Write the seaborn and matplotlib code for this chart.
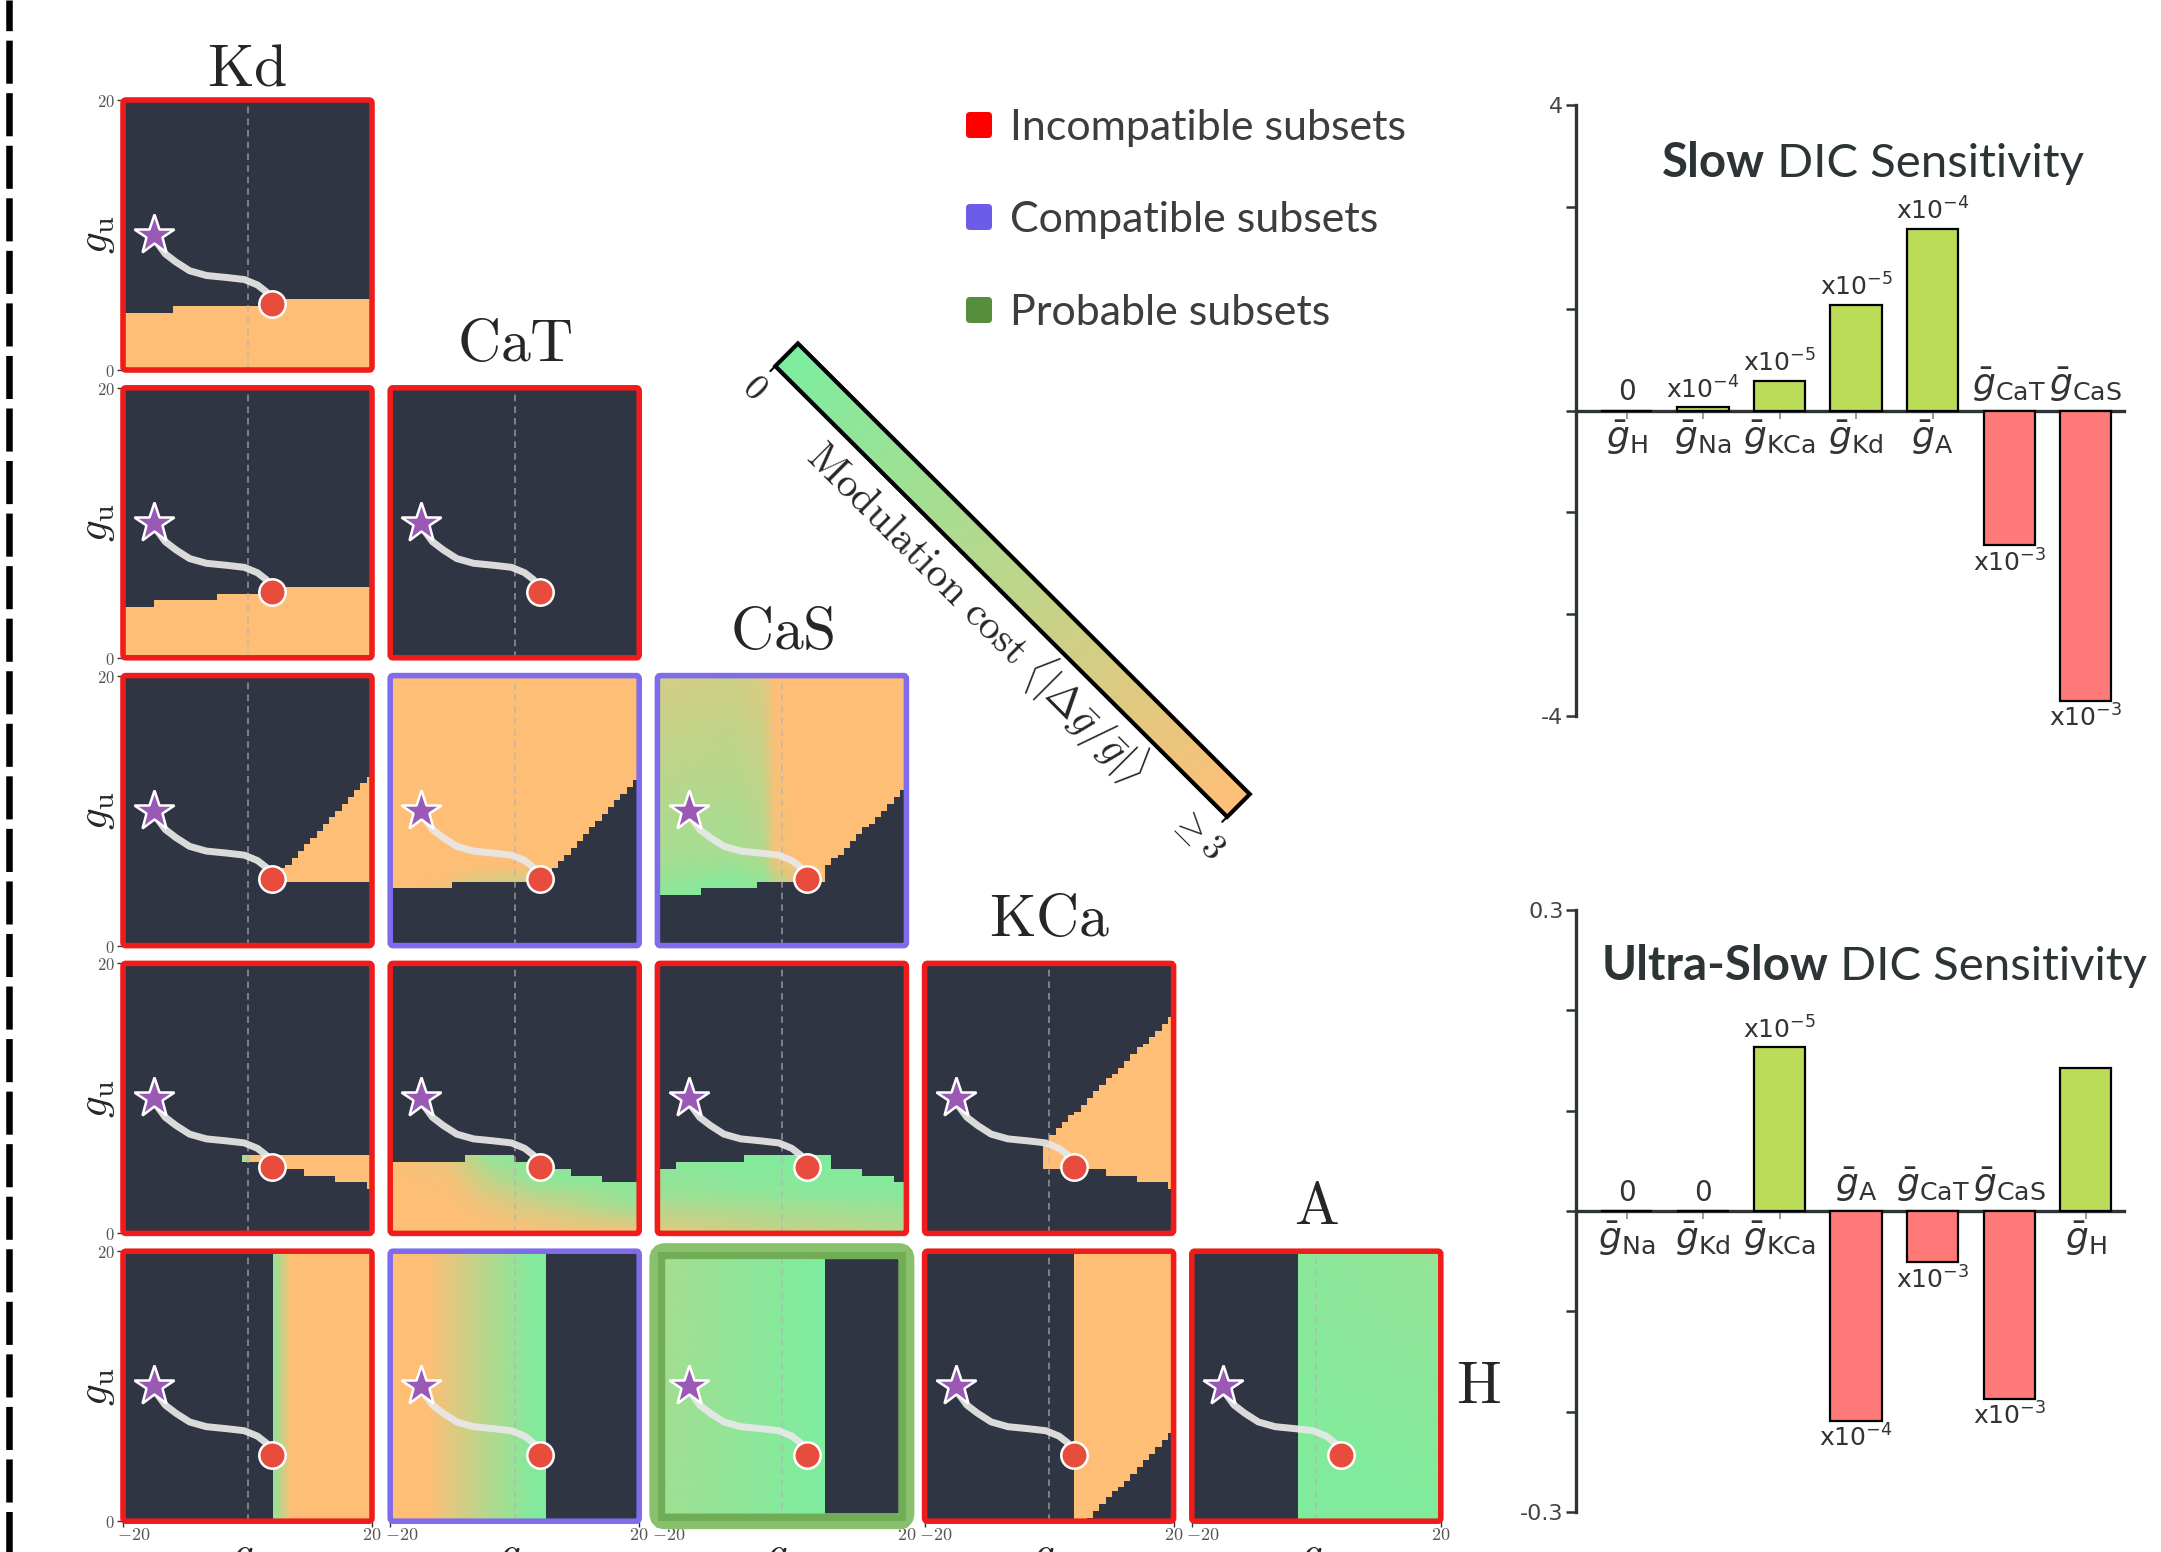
import numpy as np
import matplotlib
matplotlib.use("Agg")
import matplotlib.pyplot as plt
import seaborn as sns
from matplotlib.colors import LinearSegmentedColormap, Normalize, to_rgba
from matplotlib.patches import FancyBboxPatch, Polygon
from matplotlib.collections import PolyCollection

# ---------------- data ----------------
# conductance names of the 5x5 lower-triangular grid
grid_names = ["Kd", "CaT", "CaS", "KCa", "A"]
row_last_name = "H"

# start (star) / end (circle) point and the trajectory between them, in (g_s, g_u)
star_xy = (-15.0, 10.0)
end_xy = (4.0, 4.9)
path_x = [-15.0, -14.8, -13.2, -11.5, -9.3, -6.6, -3.3, -0.5, 1.6, 3.0, 3.7, 4.0]
path_y = [10.0, 9.6, 8.6, 8.0, 7.35, 7.0, 6.85, 6.7, 6.3, 5.8, 5.3, 4.9]

# compatible region of each panel: per column (40 columns of width 1 in g_s)
# lower / upper bound in g_u of the coloured (feasible) cells
lo_11 = [0] * 40
hi_11 = [4.25] * 8 + [4.75] * 17 + [5.25] * 15
lo_21 = [0] * 40
hi_21 = [3.75] * 5 + [4.25] * 10 + [4.75] * 11 + [5.25] * 14
lo_22 = [0] * 40
hi_22 = [0] * 40
lo_31 = [0] * 25 + [4.75] * 15
hi_31 = [0] * 25 + [5.75, 6.0, 6.5, 7.0, 7.5, 8.0, 8.5, 9.0, 9.5, 10.0, 10.5, 11.0, 11.5, 12.0, 12.5]
lo_32 = [4.25] * 10 + [4.75] * 16 + [5.75, 6.25, 6.75, 7.25, 7.75, 8.25, 8.75, 9.25, 9.75, 10.25, 10.75, 11.25, 11.75, 12.25]
hi_32 = [20] * 40
lo_33 = [3.75] * 7 + [4.25] * 9 + [4.75] * 11 + [6.0, 6.5, 6.75, 7.25, 7.75, 8.25, 8.75, 9.0, 9.5, 10.0, 10.5, 11.0, 11.5]
hi_33 = [20] * 40
lo_41 = [0] * 19 + [5.25] * 7 + [4.75] * 3 + [4.25] * 5 + [3.75] * 5 + [3.25]
hi_41 = [0] * 19 + [5.75] * 21
lo_42 = [0] * 40
hi_42 = [5.25] * 12 + [5.75] * 8 + [5.25] * 6 + [4.75] * 3 + [4.25] * 5 + [3.75] * 6
lo_43 = [0] * 40
hi_43 = [4.75] * 3 + [5.25] * 11 + [5.75] * 14 + [4.75] * 5 + [4.25] * 5 + [3.75] * 2
lo_44 = [0] * 19 + [4.75] * 10 + [4.25] * 5 + [3.75] * 5 + [3.25]
hi_44 = [0] * 19 + [6.5] + [7.25, 7.75, 8.25, 8.75, 9.0, 9.5, 10.0, 10.5, 11.0, 11.5, 11.75,
                            12.25, 12.75, 13.25, 13.75, 14.0, 14.5, 15.0, 15.5, 16.0]
lo_51 = [0] * 40
hi_51 = [0] * 24 + [20] * 16
lo_52 = [0] * 40
hi_52 = [20] * 25 + [0] * 15
lo_53 = [0] * 40
hi_53 = [20] * 27 + [0] * 13
lo_54 = [0] * 26 + [0.25, 0.75, 1.25, 1.75, 2.25, 2.5, 3.0, 3.5, 4.0, 4.5, 5.0, 5.5, 6.0, 6.5]
hi_54 = [0] * 24 + [20] * 16
lo_55 = [0] * 40
hi_55 = [0] * 17 + [20] * 23

# modulation cost read at a few nodes (g_s nodes, g_u nodes, values 0..3)
flat_x, flat_y = [-20, 20], [0, 20]
cost_flat = [[3, 3], [3, 3]]
cost_32_x = [-20, -12, -6, 3, 7, 20]
cost_32_y = [0, 4.75, 6.0, 20]
cost_32 = [[3, 3, 3, 3, 3, 3],
           [3, 2.9, 2.2, 1.9, 3, 3],
           [3, 3, 3, 3, 3, 3],
           [3, 3, 3, 3, 3, 3]]
cost_33_x = [-20, -8, -3, -1, 3, 20]
cost_33_y = [0, 4, 6.5, 20]
cost_33 = [[0.5, 0.1, 0.3, 1.0, 3, 3],
           [0.5, 0.1, 0.3, 0.8, 2.8, 3],
           [1.0, 0.9, 1.2, 2.8, 3, 3],
           [2.0, 1.9, 2.2, 3, 3, 3]]
cost_41_x = [-20, -1, 1.0, 20]
cost_41 = [[0.6, 0.6, 3, 3], [0.6, 0.6, 3, 3]]
cost_42_x = [-20, -10, -4, 3, 20]
cost_42_y = [0, 2, 4, 6, 20]
cost_42 = [[3, 3, 3, 3, 2.8],
           [3, 3, 2.6, 2.0, 0.8],
           [3, 2.8, 1.6, 0.6, 0.2],
           [3, 2.2, 0.4, 0.2, 0.2],
           [3, 2.2, 0.4, 0.2, 0.2]]
cost_43_x = [-20, 0, 20]
cost_43_y = [0, 3, 6, 20]
cost_43 = [[2.4, 1.8, 1.4],
           [0.7, 0.4, 0.3],
           [0.3, 0.1, 0.1],
           [0.3, 0.1, 0.1]]
cost_51_x = [-20, 4, 7, 20]
cost_51 = [[0.3, 0.3, 3, 3], [0.3, 0.3, 3, 3]]
cost_52_x = [-20, -14, -6, 2, 5, 20]
cost_52 = [[3, 3, 1.6, 0.3, 0.1, 0.1], [3, 3, 1.6, 0.3, 0.1, 0.1]]
cost_53_x = [-20, 5, 20]
cost_53 = [[0.9, 0.1, 0.1], [1.0, 0.1, 0.1]]
cost_55 = [[0.1, 0.15], [0.2, 0.6]]

# (row, col): (lo, hi, cost x nodes, cost y nodes, cost values, frame kind)
panels = {
    (0, 0): (lo_11, hi_11, flat_x, flat_y, cost_flat, "red"),
    (1, 0): (lo_21, hi_21, flat_x, flat_y, cost_flat, "red"),
    (1, 1): (lo_22, hi_22, flat_x, flat_y, cost_flat, "red"),
    (2, 0): (lo_31, hi_31, flat_x, flat_y, cost_flat, "red"),
    (2, 1): (lo_32, hi_32, cost_32_x, cost_32_y, cost_32, "purple"),
    (2, 2): (lo_33, hi_33, cost_33_x, cost_33_y, cost_33, "purple"),
    (3, 0): (lo_41, hi_41, cost_41_x, flat_y, cost_41, "red"),
    (3, 1): (lo_42, hi_42, cost_42_x, cost_42_y, cost_42, "red"),
    (3, 2): (lo_43, hi_43, cost_43_x, cost_43_y, cost_43, "red"),
    (3, 3): (lo_44, hi_44, flat_x, flat_y, cost_flat, "red"),
    (4, 0): (lo_51, hi_51, cost_51_x, flat_y, cost_51, "red"),
    (4, 1): (lo_52, hi_52, cost_52_x, flat_y, cost_52, "purple"),
    (4, 2): (lo_53, hi_53, cost_53_x, flat_y, cost_53, "green"),
    (4, 3): (lo_54, hi_54, flat_x, flat_y, cost_flat, "red"),
    (4, 4): (lo_55, hi_55, flat_x, flat_y, cost_55, "red"),
}

# DIC sensitivity bars
slow_names = ["H", "Na", "KCa", "Kd", "A", "CaT", "CaS"]
slow_vals = [0.0, 0.04, 0.385, 1.38, 2.38, -1.76, -3.80]
slow_notes = ["0", "x10$^{-4}$", "x10$^{-5}$", "x10$^{-5}$", "x10$^{-4}$", "x10$^{-3}$", "x10$^{-3}$"]
ultra_names = ["Na", "Kd", "KCa", "A", "CaT", "CaS", "H"]
ultra_vals = [0.0, 0.0, 0.163, -0.209, -0.051, -0.187, 0.143]
ultra_notes = ["0", "0", "x10$^{-5}$", "x10$^{-4}$", "x10$^{-3}$", "x10$^{-3}$", ""]

legend_labels = ["Incompatible subsets", "Compatible subsets", "Probable subsets"]
legend_colors = ["#ff0000", "#6c5ce7", "#568e3e"]

# ---------------- style ----------------
DARK = "#2f3542"
GREEN, ORANGE = "#7bed9f", "#ffbe76"
BAR_POS, BAR_NEG = "#badc58", "#ff7979"
INK = "#2d3436"
frame_colors = {"red": "#f01c1c", "purple": "#7f6cec"}
cost_cmap = LinearSegmentedColormap.from_list("cost", [GREEN, ORANGE])

sns.set_style("white")
plt.rcParams["font.family"] = ["DejaVu Sans"]
plt.rcParams["mathtext.fontset"] = "cm"

W, H = 2161, 1552
fig = plt.figure(figsize=(W / 100, H / 100), dpi=100)


def px_axes(x0, y0, w, h, **kw):
    return fig.add_axes([x0 / W, 1 - (y0 + h) / H, w / W, h / H], **kw)


y_cells = np.arange(0.125, 20, 0.25)

for (r, c), (lo, hi, cx, cy, cv, kind) in panels.items():
    ax = px_axes(123 + c * 267.2, 100 + r * 287.8, 249, 270)
    X, Y = np.meshgrid(cx, cy)
    ax.pcolormesh(X, Y, np.array(cv, float), shading="gouraud", cmap=cost_cmap,
                  vmin=0, vmax=3, zorder=1)
    lo_a, hi_a = np.array(lo, float), np.array(hi, float)
    feasible = (y_cells[:, None] >= lo_a[None, :]) & (y_cells[:, None] < hi_a[None, :])
    shade = np.zeros((len(y_cells), 40, 4))
    shade[~feasible] = to_rgba(DARK)
    ax.imshow(shade, extent=(-20, 20, 0, 20), origin="lower", interpolation="nearest",
              aspect="auto", zorder=2)
    ax.axvline(0, color="#b4b4b4", lw=1.2, ls=(0, (4, 3)), alpha=0.7, zorder=3)
    ax.plot(path_x, path_y, color="#e8e8e8", lw=5, alpha=0.93, solid_capstyle="round",
            solid_joinstyle="round", zorder=4)
    ax.plot(*star_xy, marker="*", ms=30, mfc="#9b59b6", mec="white", mew=1.8, zorder=5)
    ax.plot(*end_xy, marker="o", ms=19, mfc="#e74c3c", mec="white", mew=1.8, zorder=5)
    ax.set_xlim(-20, 20)
    ax.set_ylim(0, 20)
    for sp in ax.spines.values():
        sp.set_visible(False)

    if kind == "green":
        ax.add_patch(FancyBboxPatch((0, 0), 1, 1, boxstyle="round,pad=0,rounding_size=0.03",
                                    transform=ax.transAxes, fill=False, ec="#88c06c",
                                    lw=11.5, clip_on=False, zorder=6))
        ax.add_patch(FancyBboxPatch((0.016, 0.015), 0.968, 0.97, boxstyle="square,pad=0",
                                    transform=ax.transAxes, fill=False, ec="#5d9f45",
                                    lw=5, alpha=0.55, clip_on=False, zorder=6))
    else:
        ax.add_patch(FancyBboxPatch((0, 0), 1, 1, boxstyle="round,pad=0,rounding_size=0.012",
                                    transform=ax.transAxes, fill=False,
                                    ec=frame_colors[kind], lw=4, clip_on=False, zorder=6))

    ax.set_xticks([-20, 20] if r == 4 else [])
    ax.set_xticklabels([])
    ax.set_yticks([0, 20] if c == 0 else [])
    ax.set_yticklabels([r"$0$", r"$20$"] if c == 0 else [])
    ax.tick_params(left=(c == 0), bottom=(r == 4), labelsize=12, labelcolor="#555",
                   length=4, width=1, color="#333", pad=2)
    if r == 4:
        ax.text(0.045, -0.018, r"$-20$", transform=ax.transAxes, ha="center", va="top",
                fontsize=13, color="#555")
        ax.text(1.0, -0.018, r"$20$", transform=ax.transAxes, ha="center", va="top",
                fontsize=13, color="#555")
        ax.text(0.5, -0.048, r"$g_\mathrm{s}$", transform=ax.transAxes,
                ha="center", va="top", fontsize=31)
    if c == 0:
        ax.text(-0.11, 0.5, r"$g_\mathrm{u}$", transform=ax.transAxes, rotation=90,
                ha="center", va="center", fontsize=31)
    if r == c:
        ax.text(0.5, 1.052 if r == 0 else 1.10, r"$\mathrm{%s}$" % grid_names[c],
                transform=ax.transAxes, ha="center", va="baseline", fontsize=43)
    if (r, c) == (4, 4):
        ax.text(1.15, 0.5, r"$\mathrm{%s}$" % row_last_name, transform=ax.transAxes,
                ha="center", va="center", fontsize=43)


def dic_bars(top, height, names, vals, notes, lim, lim_labels, bold, rest, title_x, title_y):
    ax = px_axes(1576, top, 548, height)
    colors = [BAR_POS if v >= 0 else BAR_NEG for v in vals]
    sns.barplot(x=names, y=vals, hue=names, palette=colors, legend=False, width=0.67,
                edgecolor="black", linewidth=1.6, saturation=1, ax=ax, zorder=3)
    ax.set_xlim(-0.66, 6.5)
    ax.set_ylim(-lim, lim)
    ax.set_yticks(np.linspace(-lim, lim, 7))
    ax.set_yticklabels([lim_labels[0], "", "", "", "", "", lim_labels[1]])
    ax.set_xticks(range(len(names)))
    ax.set_xticklabels([""] * len(names))
    ax.set_xlabel("")
    ax.set_ylabel("")
    ax.spines[["top", "right"]].set_visible(False)
    ax.spines["bottom"].set_position(("data", 0))
    for side in ["left", "bottom"]:
        ax.spines[side].set_color(INK)
        ax.spines[side].set_linewidth(2.4)
    ax.tick_params(axis="y", left=True, length=7, width=1.8, color=INK, labelsize=16,
                   labelcolor="#444", pad=2)
    ax.tick_params(axis="x", bottom=True, length=6, width=1.2, color="#888")

    for i, (name, v, note) in enumerate(zip(names, vals, notes)):
        lab = r"$\bar{g}_{\mathrm{%s}}$" % name
        if v < 0:
            ax.annotate(lab, (i, 0), xytext=(0, 5), textcoords="offset points", ha="center",
                        va="bottom", fontsize=26, color="#333", math_fontfamily="dejavusans")
            ax.annotate(note, (i, v), xytext=(0, -3), textcoords="offset points", ha="center",
                        va="top", fontsize=18, color="#333", math_fontfamily="dejavusans")
        else:
            ax.annotate(lab, (i, 0), xytext=(0, -6), textcoords="offset points", ha="center",
                        va="top", fontsize=26, color="#333", math_fontfamily="dejavusans")
            size = 20 if note == "0" else 18
            ax.annotate(note, (i, v), xytext=(0, 3), textcoords="offset points", ha="center",
                        va="bottom", fontsize=size, color="#333", math_fontfamily="dejavusans")

    t = ax.text(title_x, title_y, bold, transform=ax.transAxes, fontsize=34,
                fontweight="bold", family="Lato", color=INK, va="baseline", ha="left")
    ax.annotate(rest, xy=(1, 0), xycoords=t, fontsize=34, family="Lato", color=INK,
                va="bottom", ha="left")
    return ax


dic_bars(105, 611, slow_names, slow_vals, slow_notes, 4, ["-4", "4"],
         "Slow", " DIC Sensitivity", 0.157, 0.882)
dic_bars(910, 602, ultra_names, ultra_vals, ultra_notes, 0.3, ["-0.3", "0.3"],
         "Ultra-Slow", " DIC Sensitivity", 0.046, 0.884)

# ---------------- overlay: legend, colour bar, separator ----------------
ov = px_axes(0, 0, W, H, zorder=20)
ov.set_xlim(0, W)
ov.set_ylim(H, 0)
ov.axis("off")

ov.plot([9, 9], [0, H], color="black", lw=4.7, ls=(1.9, (6.6, 1.45)), solid_capstyle="butt")

for k, (lab, col) in enumerate(zip(legend_labels, legend_colors)):
    yc = [125, 217, 310][k]
    ov.add_patch(FancyBboxPatch((966, yc - 13), 26, 26, boxstyle="round,pad=0,rounding_size=4",
                                fc=col, ec="none"))
    ov.text(1010, yc + 15, lab, fontsize=31, family="Lato", color="#3d3d3d", va="baseline")

p0, p1, bar_w = np.array([786.6, 354.8]), np.array([1238.5, 805.5]), 32.0
along = (p1 - p0) / np.linalg.norm(p1 - p0)
perp = np.array([-along[1], along[0]])  # points down-left on screen
cost_levels = np.linspace(0, 3, 121)
ts = np.linspace(0, 1, len(cost_levels))
quads = []
for a, b in zip(ts[:-1], ts[1:]):
    ca, cb = p0 + a * (p1 - p0), p0 + b * (p1 - p0)
    quads.append([ca - perp * bar_w / 2, cb - perp * bar_w / 2,
                  cb + perp * bar_w / 2, ca + perp * bar_w / 2])
norm = Normalize(0, 3)
ov.add_collection(PolyCollection(quads, facecolors=cost_cmap(norm(cost_levels[:-1])),
                                 edgecolors="face", lw=0.5))
ov.add_patch(Polygon([p0 - perp * bar_w / 2, p1 - perp * bar_w / 2,
                      p1 + perp * bar_w / 2, p0 + perp * bar_w / 2],
                     closed=True, fill=False, ec="black", lw=3, joinstyle="miter"))
for end in (p0, p1):
    a = end + perp * bar_w / 2
    ov.plot([a[0], a[0] + perp[0] * 7], [a[1], a[1] + perp[1] * 7], color="black", lw=1.5)
ov.text(754, 388, r"$0$", rotation=-45, rotation_mode="anchor", ha="center", va="center",
        fontsize=26)
ov.text(1198, 834, r"$\geq 3$", rotation=-45, rotation_mode="anchor", ha="center",
        va="center", fontsize=26)
ov.text(977, 612, r"$\mathrm{Modulation\ cost}\ \langle|\Delta\bar{g}/\bar{g}|\rangle$",
        rotation=-45, rotation_mode="anchor", ha="center", va="center", fontsize=30)

fig.savefig("out.png", dpi=100)
